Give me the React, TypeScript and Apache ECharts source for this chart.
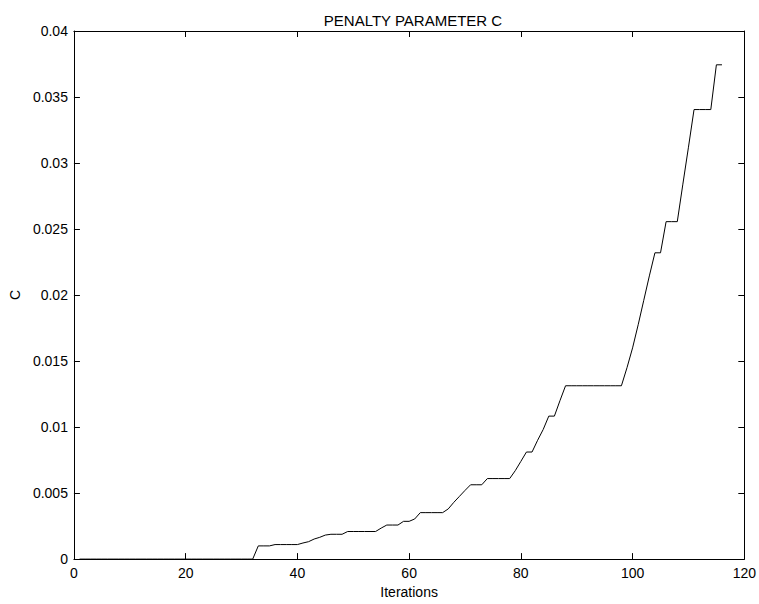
import React, { useEffect, useRef } from "react";
import * as echarts from "echarts";

const TITLE = "PENALTY PARAMETER C";
const X_NAME = "Iterations";
const Y_NAME = "C";

const iterations: number[] = [
  1, 2, 3, 4, 5, 6, 7, 8, 9, 10, 11, 12, 13, 14, 15, 16, 17, 18, 19, 20,
  21, 22, 23, 24, 25, 26, 27, 28, 29, 30, 31, 32, 33, 34, 35, 36, 37, 38, 39, 40,
  41, 42, 43, 44, 45, 46, 47, 48, 49, 50, 51, 52, 53, 54, 55, 56, 57, 58, 59, 60,
  61, 62, 63, 64, 65, 66, 67, 68, 69, 70, 71, 72, 73, 74, 75, 76, 77, 78, 79, 80,
  81, 82, 83, 84, 85, 86, 87, 88, 89, 90, 91, 92, 93, 94, 95, 96, 97, 98, 99, 100,
  101, 102, 103, 104, 105, 106, 107, 108, 109, 110, 111, 112, 113, 114, 115, 116,
];

const cValues: number[] = [
  // 1-20
  0, 0, 0, 0, 0, 0, 0, 0, 0, 0, 0, 0, 0, 0, 0, 0, 0, 0, 0, 0,
  // 21-40
  0, 0, 0, 0, 0, 0, 0, 0, 0, 0, 0, 0, 0.001, 0.001, 0.001, 0.0011, 0.0011, 0.0011, 0.0011, 0.0011,
  // 41-60
  0.00122, 0.00132, 0.00152, 0.00165, 0.00182, 0.00188, 0.00188, 0.00188, 0.00209, 0.00209,
  0.00209, 0.00209, 0.00209, 0.00209, 0.00235, 0.00258, 0.00258, 0.00258, 0.00286, 0.00286,
  // 61-80
  0.00304, 0.00352, 0.00352, 0.00352, 0.00352, 0.00352, 0.0038, 0.0043, 0.00475, 0.0052,
  0.00563, 0.00563, 0.00563, 0.0061, 0.0061, 0.0061, 0.0061, 0.0061, 0.0067, 0.0074,
  // 81-100
  0.00811, 0.00811, 0.009, 0.00982, 0.01083, 0.01083, 0.012, 0.01313, 0.01313, 0.01313,
  0.01313, 0.01313, 0.01313, 0.01313, 0.01313, 0.01313, 0.01313, 0.01313, 0.0145, 0.016,
  // 101-116
  0.01775, 0.0196, 0.02145, 0.0232, 0.0232, 0.02556, 0.02556, 0.02556, 0.0284, 0.0312,
  0.03405, 0.03405, 0.03405, 0.03405, 0.03744, 0.03744,
];

const X_MIN = 0;
const X_MAX = 120;
const X_STEP = 20;
const Y_MIN = 0;
const Y_MAX = 0.04;
const Y_STEP = 0.005;

export default function App() {
  const ref = useRef<HTMLDivElement>(null);

  useEffect(() => {
    if (!ref.current) return;
    const chart = echarts.init(ref.current, undefined, { renderer: "svg" });
    const font = "'Liberation Sans', Arial, Helvetica, sans-serif";
    const axisLine = { show: true, onZero: false, lineStyle: { color: "#000", width: 1 } };
    const tick = { show: true, inside: true, length: 6, lineStyle: { color: "#000", width: 1 } };
    const fmtY = (v: number) => String(+v.toFixed(4));
    const data = iterations.map((it, i) => [it, cValues[i]]);

    chart.setOption({
      animation: false,
      backgroundColor: "#fff",
      textStyle: { fontFamily: font },
      title: {
        text: TITLE,
        left: 408,
        textAlign: "center",
        top: 8,
        textStyle: { fontFamily: font, fontSize: 15, fontWeight: "normal", color: "#000" },
      },
      grid: { left: 71, right: 14, top: 31, bottom: 42, containLabel: false },
      xAxis: [
        {
          type: "value",
          min: X_MIN,
          max: X_MAX,
          interval: X_STEP,
          position: "bottom",
          name: X_NAME,
          nameLocation: "middle",
          nameGap: 25,
          nameTextStyle: { fontFamily: font, fontSize: 14, color: "#000" },
          axisLine,
          axisTick: tick,
          axisLabel: { margin: 7, fontFamily: font, fontSize: 14, color: "#000" },
          splitLine: { show: false },
        },
        {
          type: "value",
          min: X_MIN,
          max: X_MAX,
          interval: X_STEP,
          position: "top",
          axisLine,
          axisTick: tick,
          axisLabel: { show: false },
          splitLine: { show: false },
        },
      ],
      yAxis: [
        {
          type: "value",
          min: Y_MIN,
          max: Y_MAX,
          interval: Y_STEP,
          position: "left",
          name: Y_NAME,
          nameLocation: "middle",
          nameGap: 50,
          nameTextStyle: { fontFamily: font, fontSize: 14, color: "#000" },
          axisLine,
          axisTick: tick,
          axisLabel: { margin: 6, fontFamily: font, fontSize: 14, color: "#000", formatter: fmtY },
          splitLine: { show: false },
        },
        {
          type: "value",
          min: Y_MIN,
          max: Y_MAX,
          interval: Y_STEP,
          position: "right",
          axisLine,
          axisTick: tick,
          axisLabel: { show: false },
          splitLine: { show: false },
        },
      ],
      series: [
        {
          type: "line",
          data,
          xAxisIndex: 0,
          yAxisIndex: 0,
          showSymbol: false,
          symbol: "none",
          lineStyle: { color: "#000", width: 1 },
          z: 1,
        },
      ],
    });
    return () => chart.dispose();
  }, []);

  return (
    <div
      ref={ref}
      style={{ position: "fixed", left: 0, top: 0, width: 759, height: 604, background: "#fff" }}
    />
  );
}
